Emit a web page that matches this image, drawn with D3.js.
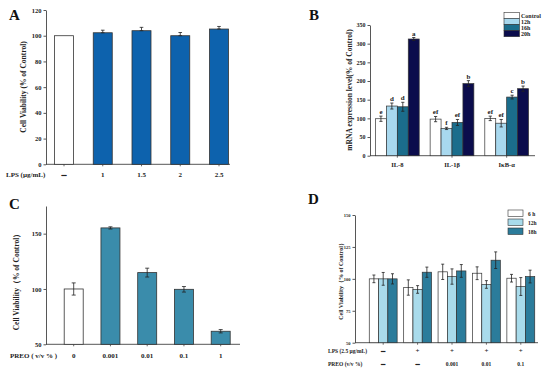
<!DOCTYPE html>
<html>
<head>
<meta charset="utf-8">
<script src="https://cdn.jsdelivr.net/npm/d3@7"></script>
<style>
  body { margin: 0; background: #fff; }
  svg { display: block; font-family: "Liberation Serif", "DejaVu Serif", serif; font-weight: bold; }
</style>
</head>
<body>
<svg id="fig" width="550" height="374"></svg>
<script>
// ---- data ----
// panel A
const catsA = ["–", "1", "1.5", "2", "2.5"];
const valsA = [100, 102.3, 103.9, 100, 105.2];
const errA = [0, 2, 2.6, 2.5, 2];
const ticksA = [0, 20, 40, 60, 80, 100, 120];

// panel B
const genesB = ["IL-8", "IL-1β", "IκB-α"];
const seriesB = ["Control", "12h", "16h", "20h"];
const valsB = [
  [99, 133, 131, 312.5],
  [98, 73, 89, 193],
  [100, 87, 157, 179.5]
];
const errB = [
  [7, 8, 12, 4],
  [7, 3, 8, 8],
  [6, 10, 5, 7]
];
const lettersB = [
  ["e", "d", "d", "a"],
  ["ef", "f", "ef", "b"],
  ["ef", "ef", "c", "b"]
];
const ticksB = [0, 50, 100, 150, 200, 250, 300, 350];

// panel C
const catsC = ["0", "0.001", "0.01", "0.1", "1"];
const valsC = [100, 155.2, 114.8, 99.7, 61.8];
const errC = [5.5, 1, 4, 2.5, 1.5];
const ticksC = [50, 100, 150];

// panel D
const lpsD = ["–", "+", "+", "+", "+"];
const preoD = ["–", "–", "0.001", "0.01", "0.1"];
const seriesD = ["6 h", "12h", "18h"];
const valsD = [
  [100, 100, 100],
  [93.2, 91.7, 105.2],
  [105.5, 101.8, 106.2],
  [104.4, 95.6, 114.6],
  [100.5, 94, 101.8]
];
const errD = [
  [3, 5, 4],
  [6, 3, 4],
  [6, 6, 5],
  [5, 3, 6.5],
  [3, 7, 5]
];
const ticksD = [50, 75, 100, 125, 150];

const colA = "#0d62ad";
const colorsB = ["#ffffff", "#a8d8ee", "#1b6d8c", "#0b0c4c"];
const colC = "#3a8cab";
const colorsD = ["#ffffff", "#a9dbeb", "#2b7c9b"];
const stroke = "#333";

const svg = d3.select("#fig");

// draws left axis + bottom line
function frame(y, x0, x1, ticks, fs) {
  const g = svg.append("g");
  g.append("g")
    .attr("transform", `translate(${x0},0)`)
    .call(d3.axisLeft(y).tickValues(ticks).tickSize(2.5).tickSizeOuter(0).tickPadding(2))
    .call(a => a.selectAll("text").attr("font-size", fs).attr("font-family", "Liberation Serif").attr("font-weight", "bold").attr("fill", "#222"))
    .call(a => a.selectAll("line,path").attr("stroke", "#444").attr("stroke-width", 0.9));
  g.append("line")
    .attr("x1", x0).attr("x2", x1)
    .attr("y1", y.range()[0]).attr("y2", y.range()[0])
    .attr("stroke", "#444").attr("stroke-width", 0.9);
  return g;
}

function errbar(g, cx, yTop, yBot, cap) {
  g.append("line").attr("x1", cx).attr("x2", cx).attr("y1", yTop).attr("y2", yBot)
    .attr("stroke", "#222").attr("stroke-width", 0.8);
  [yTop, yBot].forEach(v => g.append("line").attr("x1", cx - cap).attr("x2", cx + cap)
    .attr("y1", v).attr("y2", v).attr("stroke", "#222").attr("stroke-width", 0.8));
}

function ytitle(x, yc, txt, fs) {
  svg.append("text")
    .attr("transform", `translate(${x},${yc}) rotate(-90)`)
    .attr("text-anchor", "middle").attr("font-size", fs).attr("fill", "#222")
    .text(txt);
}

function letter(x, y, t) {
  svg.append("text").attr("x", x).attr("y", y).attr("font-size", 15).attr("fill", "#111").text(t);
}

// dash labels are drawn heavier, like the original
function catLabel(g, x, y, t, fs) {
  const isDash = t === "–";
  g.append("text").attr("x", x).attr("y", y).attr("text-anchor", "middle")
    .attr("font-size", isDash ? fs + 2 : fs).attr("fill", "#222")
    .attr("stroke", isDash ? "#222" : null).attr("stroke-width", isDash ? 0.6 : null)
    .text(t);
}

// ---- panel A ----
{
  const y = d3.scaleLinear().domain([0, 120]).range([164.3, 10]);
  const x = d3.scalePoint().domain(catsA).range([64, 219]);
  const g = frame(y, 46, 230, ticksA, 6.5);
  const bw = 19;
  catsA.forEach((c, i) => {
    g.append("rect").attr("x", x(c) - bw / 2).attr("y", y(valsA[i]))
      .attr("width", bw).attr("height", y(0) - y(valsA[i]))
      .attr("fill", i === 0 ? "#fff" : colA).attr("stroke", stroke).attr("stroke-width", 0.8);
    if (errA[i] > 0) errbar(g, x(c), y(valsA[i] + errA[i]), y(valsA[i]), 1.8);
    g.append("line").attr("x1", x(c)).attr("x2", x(c)).attr("y1", y(0)).attr("y2", y(0) + 2).attr("stroke", "#444").attr("stroke-width", 0.8);
    catLabel(g, x(c), 177, c, 7);
  });
  svg.append("text").attr("x", 6).attr("y", 177).attr("font-size", 7).attr("fill", "#222").text("LPS (µg/mL)");
  ytitle(26, 87, "Cell Viability (% of Control)", 7.5);
  letter(9, 20, "A");
}

// ---- panel B ----
{
  const y = d3.scaleLinear().domain([0, 350]).range([155.7, 25]);
  const x = d3.scaleBand().domain(genesB).range([370, 534]).paddingInner(0.2).paddingOuter(0.1);
  const xs = d3.scaleBand().domain(seriesB).range([0, x.bandwidth()]);
  const g = frame(y, 370, 535, ticksB, 6);
  genesB.forEach((gene, i) => {
    seriesB.forEach((s, j) => {
      const cx = x(gene) + xs(s) + xs.bandwidth() / 2;
      const v = valsB[i][j], e = errB[i][j];
      g.append("rect").attr("x", x(gene) + xs(s)).attr("y", y(v))
        .attr("width", xs.bandwidth()).attr("height", y(0) - y(v))
        .attr("fill", colorsB[j]).attr("stroke", stroke).attr("stroke-width", 0.7);
      errbar(g, cx, y(v + e), y(v - e), 1.6);
      g.append("text").attr("x", cx).attr("y", y(v + e) - 2).attr("text-anchor", "middle")
        .attr("font-size", 7).attr("fill", "#222").text(lettersB[i][j]);
    });
    const gc = x(gene) + x.bandwidth() / 2;
    g.append("line").attr("x1", gc).attr("x2", gc).attr("y1", y(0)).attr("y2", y(0) + 2).attr("stroke", "#444").attr("stroke-width", 0.8);
    g.append("text").attr("x", gc).attr("y", 167).attr("text-anchor", "middle")
      .attr("font-size", 6.5).attr("fill", "#222").text(gene);
  });
  // legend
  const lg = svg.append("g");
  seriesB.forEach((s, j) => {
    lg.append("rect").attr("x", 504).attr("y", 12.3 + j * 6.1).attr("width", 15.5).attr("height", 6.1)
      .attr("fill", colorsB[j]).attr("stroke", stroke).attr("stroke-width", 0.6);
    lg.append("text").attr("x", 521).attr("y", 17.8 + j * 6.1).attr("font-size", 6).attr("fill", "#222").text(s);
  });
  ytitle(352, 90, "mRNA expression level(% of Control)", 7.5);
  letter(309, 20, "B");
}

// ---- panel C ----
{
  const y = d3.scaleLinear().domain([50, 175]).range([344.3, 206]);
  const x = d3.scalePoint().domain(catsC).range([73.7, 220.7]);
  const g = frame(y, 46, 240, ticksC, 6.5);
  const bw = 19;
  catsC.forEach((c, i) => {
    g.append("rect").attr("x", x(c) - bw / 2).attr("y", y(valsC[i]))
      .attr("width", bw).attr("height", y(50) - y(valsC[i]))
      .attr("fill", i === 0 ? "#fff" : colC).attr("stroke", stroke).attr("stroke-width", 0.8);
    errbar(g, x(c), y(valsC[i] + errC[i]), y(valsC[i] - errC[i]), 2);
    g.append("line").attr("x1", x(c)).attr("x2", x(c)).attr("y1", y(50)).attr("y2", y(50) + 2).attr("stroke", "#444").attr("stroke-width", 0.8);
    catLabel(g, x(c), 358, c, 7);
  });
  svg.append("text").attr("x", 10).attr("y", 358).attr("font-size", 7).attr("fill", "#222").text("PREO ( v/v % )");
  ytitle(19, 280, "Cell Viability（% of Control）", 7.5);
  letter(9, 209, "C");
}

// ---- panel D ----
{
  const y = d3.scaleLinear().domain([50, 150]).range([342.7, 215]);
  const groups = d3.range(lpsD.length);
  const x = d3.scaleBand().domain(groups).range([366, 538]).paddingInner(0.19).paddingOuter(0.095);
  const xs = d3.scaleBand().domain(seriesD).range([0, x.bandwidth()]);
  const g = frame(y, 355, 538, ticksD, 4.5);
  groups.forEach(i => {
    seriesD.forEach((s, j) => {
      const cx = x(i) + xs(s) + xs.bandwidth() / 2;
      const v = valsD[i][j], e = errD[i][j];
      g.append("rect").attr("x", x(i) + xs(s)).attr("y", y(v))
        .attr("width", xs.bandwidth()).attr("height", y(50) - y(v))
        .attr("fill", colorsD[j]).attr("stroke", stroke).attr("stroke-width", 0.7);
      errbar(g, cx, y(v + e), y(v - e), 1.5);
    });
    const gc = x(i) + x.bandwidth() / 2;
    g.append("line").attr("x1", gc).attr("x2", gc).attr("y1", y(50)).attr("y2", y(50) + 2).attr("stroke", "#444").attr("stroke-width", 0.8);
    catLabel(g, gc, 353, lpsD[i], lpsD[i] === "+" ? 7 : 5.5);
    catLabel(g, gc, 366, preoD[i], 5.5);
  });
  svg.append("text").attr("x", 328).attr("y", 353).attr("font-size", 5.5).attr("fill", "#222").text("LPS (2.5 µg/mL)");
  svg.append("text").attr("x", 328).attr("y", 366).attr("font-size", 5.5).attr("fill", "#222").text("PREO (v/v %)");
  const lg = svg.append("g");
  seriesD.forEach((s, j) => {
    lg.append("rect").attr("x", 508).attr("y", 210 + j * 9).attr("width", 15).attr("height", 6.5)
      .attr("fill", colorsD[j]).attr("stroke", stroke).attr("stroke-width", 0.6);
    lg.append("text").attr("x", 528).attr("y", 216 + j * 9).attr("font-size", 5.5).attr("fill", "#222").text(s);
  });
  ytitle(343, 280, "Cell Viability（% of Control）", 6);
  letter(308, 204, "D");
}
</script>
</body>
</html>
